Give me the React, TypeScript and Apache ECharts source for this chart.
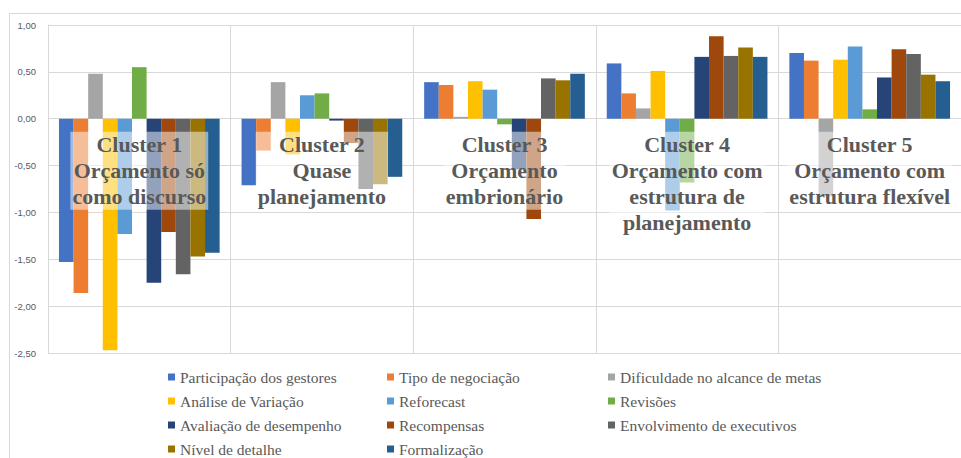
import React, { useEffect, useRef } from "react";
import * as echarts from "echarts";

const categories = ["Cluster 1", "Cluster 2", "Cluster 3", "Cluster 4", "Cluster 5"];

const clusterLabels = [
  "Cluster 1\nOrçamento só\ncomo discurso",
  "Cluster 2\nQuase\nplanejamento",
  "Cluster 3\nOrçamento\nembrionário",
  "Cluster 4\nOrçamento com\nestrutura de\nplanejamento",
  "Cluster 5\nOrçamento com\nestrutura flexível",
];

const yTicks = { min: -2.5, max: 1, interval: 0.5 };

const participacao = [-1.53, -0.71, 0.39, 0.59, 0.7];
const tipoNegociacao = [-1.86, -0.34, 0.36, 0.27, 0.62];
const dificuldade = [0.48, 0.39, 0.02, 0.11, -0.83];
const analiseVariacao = [-2.47, -0.38, 0.4, 0.51, 0.63];
const reforecast = [-1.23, 0.25, 0.31, -0.98, 0.77];
const revisoes = [0.55, 0.27, -0.06, -0.68, 0.1];
const avaliacao = [-1.75, -0.02, -0.54, 0.66, 0.44];
const recompensas = [-1.21, -0.26, -1.07, 0.88, 0.74];
const envolvimento = [-1.66, -0.75, 0.43, 0.67, 0.69];
const nivelDetalhe = [-1.47, -0.7, 0.41, 0.76, 0.47];
const formalizacao = [-1.43, -0.62, 0.48, 0.66, 0.4];

const seriesDefs = [
  { name: "Participação dos gestores", data: participacao, color: "#4472C4" },
  { name: "Tipo de negociação", data: tipoNegociacao, color: "#ED7D31" },
  { name: "Dificuldade no alcance de metas", data: dificuldade, color: "#A5A5A5" },
  { name: "Análise de Variação", data: analiseVariacao, color: "#FFC000" },
  { name: "Reforecast", data: reforecast, color: "#5B9BD5" },
  { name: "Revisões", data: revisoes, color: "#70AD47" },
  { name: "Avaliação de desempenho", data: avaliacao, color: "#264478" },
  { name: "Recompensas", data: recompensas, color: "#9E480E" },
  { name: "Envolvimento de executivos", data: envolvimento, color: "#636363" },
  { name: "Nível de detalhe", data: nivelDetalhe, color: "#997300" },
  { name: "Formalização", data: formalizacao, color: "#255E91" },
];

const legendCol1 = ["Participação dos gestores", "Análise de Variação", "Avaliação de desempenho", "Nível de detalhe"];
const legendCol2 = ["Tipo de negociação", "Reforecast", "Recompensas", "Formalização"];
const legendCol3 = ["Dificuldade no alcance de metas", "Revisões", "Envolvimento de executivos"];

export default function App() {
  const ref = useRef<HTMLDivElement>(null);

  useEffect(() => {
    document.body.style.margin = "0";
    if (!ref.current) return;
    const chart = echarts.init(ref.current, null, { renderer: "svg" });

    const legendBase = {
      orient: "vertical" as const,
      top: 368,
      height: 140,
      padding: 0,
      itemWidth: 7,
      itemHeight: 7,
      itemGap: 6,
      icon: "rect",
      textStyle: {
        fontFamily: "Liberation Serif",
        fontSize: 15.5,
        color: "#595959",
        lineHeight: 18,
      },
    };

    chart.setOption({
      animation: false,
      backgroundColor: "#ffffff",
      grid: { left: 48, top: 25, right: -4, bottom: 105 },
      legend: [
        { ...legendBase, left: 168, data: legendCol1 },
        { ...legendBase, left: 387, data: legendCol2 },
        { ...legendBase, left: 608, data: legendCol3 },
      ],
      xAxis: {
        type: "category",
        data: categories,
        axisLabel: { show: false },
        axisTick: { show: false },
        axisLine: { show: false },
        splitLine: { show: true, lineStyle: { color: "#d9d9d9", width: 1 } },
      },
      yAxis: {
        type: "value",
        min: yTicks.min,
        max: yTicks.max,
        interval: yTicks.interval,
        axisLine: { show: true, lineStyle: { color: "#d9d9d9" } },
        axisTick: { show: false },
        axisLabel: {
          margin: 12,
          color: "#595959",
          fontFamily: "Liberation Sans",
          fontSize: 9.5,
          formatter: (v: number) => v.toFixed(2).replace(".", ","),
        },
        splitLine: { show: true, lineStyle: { color: "#d9d9d9", width: 1 } },
      },
      series: seriesDefs.map((s) => ({
        name: s.name,
        type: "bar",
        data: s.data,
        barGap: "0%",
        barCategoryGap: "12%",
        itemStyle: { color: s.color },
      })),
    });

    const graphics: any[] = [
      {
        type: "rect",
        z: 0,
        silent: true,
        shape: { x: 9.5, y: 13.5, width: 1000, height: 1000 },
        style: { fill: "none", stroke: "#d9d9d9", lineWidth: 1 },
      },
    ];
    categories.forEach((c, i) => {
      const p = chart.convertToPixel({ gridIndex: 0 }, [c, -0.14]) as number[];
      graphics.push({
        type: "text",
        x: p[0],
        y: p[1],
        z: 100,
        silent: true,
        style: {
          text: clusterLabels[i],
          fill: "#595959",
          fontFamily: "Liberation Serif",
          fontWeight: "bold",
          fontSize: 22,
          lineHeight: 26,
          align: "center",
          verticalAlign: "top",
          backgroundColor: "rgba(255,255,255,0.5)",
          padding: [0, 2, 0, 2],
        },
      });
    });
    chart.setOption({ graphic: graphics });

    return () => chart.dispose();
  }, []);

  return <div ref={ref} style={{ width: 961, height: 458 }} />;
}
